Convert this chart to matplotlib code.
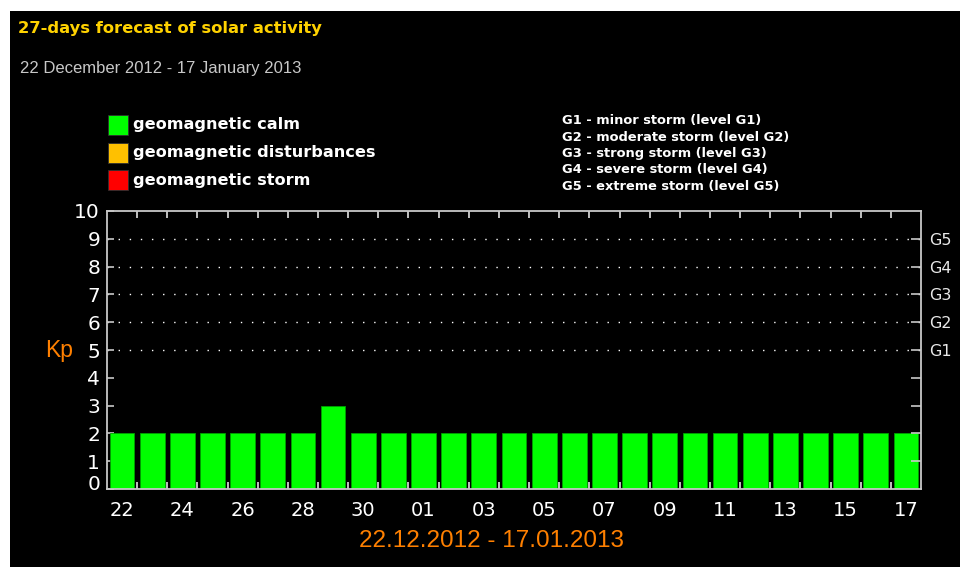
import matplotlib
matplotlib.use("Agg")
import matplotlib.pyplot as plt
from matplotlib.patches import Rectangle
from matplotlib.transforms import ScaledTranslation

# ---- data ----
days = ["22", "23", "24", "25", "26", "27", "28", "29", "30", "31",
        "01", "02", "03", "04", "05", "06", "07", "08", "09", "10",
        "11", "12", "13", "14", "15", "16", "17"]
kp = [2, 2, 2, 2, 2, 2, 2, 3, 2, 2,
      2, 2, 2, 2, 2, 2, 2, 2, 2, 2,
      2, 2, 2, 2, 2, 2, 2]
yticks = list(range(0, 11))
g_levels = [5, 6, 7, 8, 9]
g_labels = ["G1", "G2", "G3", "G4", "G5"]
legend_labels = ["geomagnetic calm", "geomagnetic disturbances", "geomagnetic storm"]
legend_colors = ["#00FF00", "#FFC000", "#FF0000"]
g_desc = ["G1 - minor storm (level G1)",
          "G2 - moderate storm (level G2)",
          "G3 - strong storm (level G3)",
          "G4 - severe storm (level G4)",
          "G5 - extreme storm (level G5)"]
title = "27-days forecast of solar activity"
subtitle = "22 December 2012 - 17 January 2013"
xlabel = "22.12.2012 - 17.01.2013"

W, H = 960, 567
fig = plt.figure(figsize=(W / 100, H / 100), dpi=100, facecolor="white")

def fx(px):
    return px / W

def fy(py):
    return 1 - py / H

# black panel
fig.patches.append(Rectangle((fx(10), 0), 1 - fx(10), fy(11), transform=fig.transFigure,
                             facecolor="black", edgecolor="none", zorder=-5))

fig.text(fx(18), fy(29), title, color="#FFD200", fontsize=11.8, fontweight="bold",
         family="DejaVu Sans", va="center", ha="left")
fig.text(fx(20), fy(69), subtitle, color="#C8C8C8", fontsize=12,
         family="Liberation Sans", va="center", ha="left")

# legend
for i, (lab, col) in enumerate(zip(legend_labels, legend_colors)):
    yc = 125 + i * 27.5
    fig.patches.append(Rectangle((fx(107.5), fy(yc + 10)), fx(20), 20 / H,
                                 transform=fig.transFigure, facecolor=col,
                                 edgecolor="#303030", lw=0.6, zorder=2))
    fig.text(fx(133), fy(yc), lab, color="white", fontsize=11.6, fontweight="bold",
             family="DejaVu Sans", va="center", ha="left")

for i, t in enumerate(g_desc):
    fig.text(fx(562), fy(121 + i * 16.3), t, color="white", fontsize=9.4,
             fontweight="bold", family="DejaVu Sans", va="center", ha="left")

# axes
left, right, top, bottom = 107, 921, 211, 489
ax = fig.add_axes([fx(left), fy(bottom), fx(right - left), (bottom - top) / H])
ax.set_facecolor("black")
ax.set_zorder(1)

def kp_color(v):
    if v >= 5:
        return "#FF0000"
    if v >= 4:
        return "#FFC000"
    return "#00FF00"

xs = [i + 0.5 for i in range(len(kp))]
ax.bar(xs, kp, width=0.82, color=[kp_color(v) for v in kp],
       edgecolor="#00A000", linewidth=0.6, zorder=2)

ax.set_xlim(0, len(kp))
ax.set_ylim(0, 10)

for lv in g_levels:
    ax.axhline(lv, color="white", linestyle=(0, (1, 7)), linewidth=1.0, zorder=1)

for s in ax.spines.values():
    s.set_color("#C8C8C8")
    s.set_linewidth(1.3)

ax.set_xticks(xs[::2])
ax.set_xticklabels(days[::2], fontsize=14, family="DejaVu Sans", color="white")
ax.set_xticks(range(1, len(kp)), minor=True)
ax.tick_params(axis="x", which="major", length=0, pad=9)
ax.tick_params(axis="x", which="minor", direction="in", length=5, width=1.2,
               color="#E0E0E0", top=True, bottom=True)

ax.set_yticks(yticks)
ax.set_yticklabels([str(v) for v in yticks], fontsize=14.5, family="DejaVu Sans",
                   color="white")
ax.tick_params(axis="y", which="major", direction="in", length=5, width=1.2,
               color="#C8C8C8", pad=5)
# lift the "0" label a little as in the original
lab0 = ax.get_yticklabels()[0]
lab0.set_transform(lab0.get_transform() + ScaledTranslation(0, 7 / 100, fig.dpi_scale_trans))

ax2 = ax.twinx()
ax2.set_zorder(2)
ax2.set_ylim(0, 10)
ax2.set_yticks(range(1, 10))
ax2.set_yticklabels(["" if v not in g_levels else g_labels[g_levels.index(v)]
                     for v in range(1, 10)],
                    fontsize=11.5, family="DejaVu Sans", color="#E8E8E8")
ax2.tick_params(axis="y", direction="in", length=7, width=1.2, color="#C8C8C8", pad=6)
for s in ax2.spines.values():
    s.set_visible(False)

fig.text(fx(59), fy(350), "Kp", color="#FF8000", fontsize=16.5, family="Liberation Sans",
         va="center", ha="center")
fig.text(fx(492), fy(541), xlabel, color="#FF8000", fontsize=17.5,
         family="Liberation Sans", va="center", ha="center")

fig.savefig("out.png", dpi=100, facecolor="white")
